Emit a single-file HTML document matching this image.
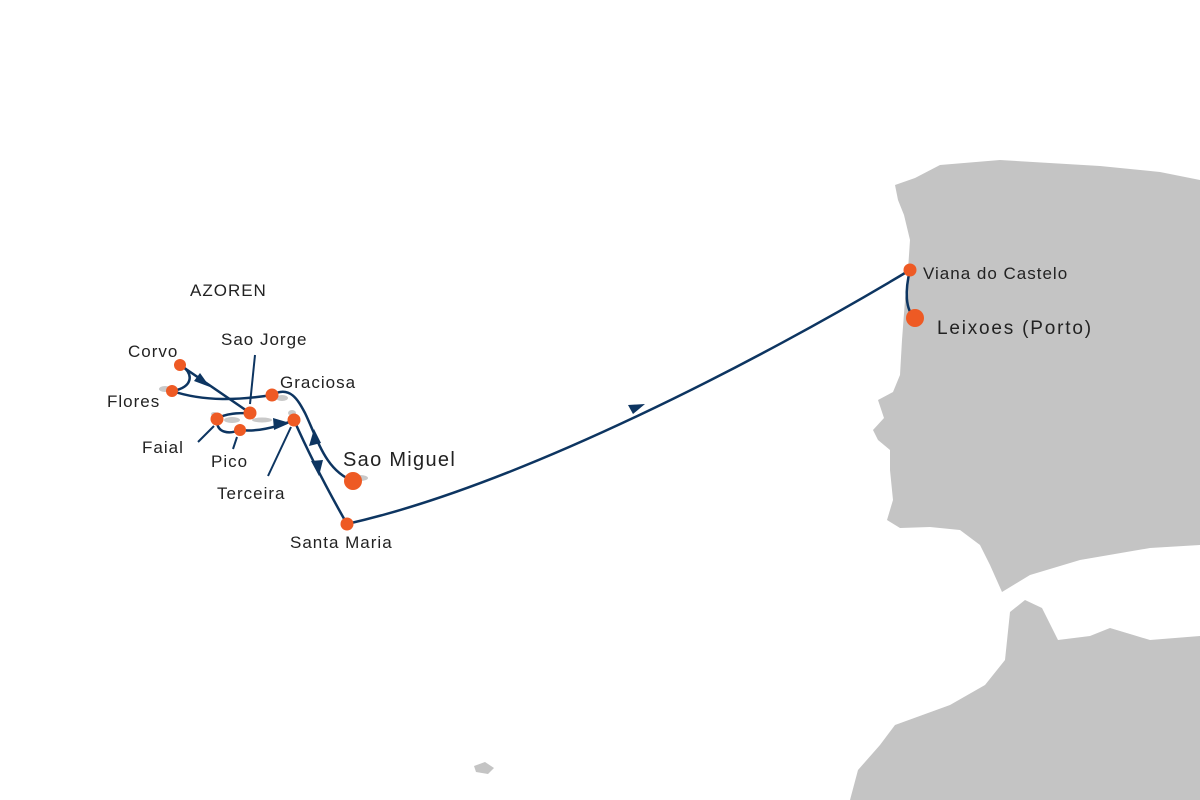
<!DOCTYPE html>
<html><head><meta charset="utf-8"><style>
body{margin:0;background:#fff}
svg{display:block}
text{font-family:"Liberation Sans",sans-serif;fill:#222;letter-spacing:1px}
</style></head><body>
<svg width="1200" height="800" viewBox="0 0 1200 800">
<path fill="#c4c4c4" d="M895,185 L915,178 L940,165 L1000,160 L1100,166 L1160,172 L1200,180 L1200,545 L1150,548 L1080,560 L1030,575 L1002,592 L990,565 L980,545 L960,530 L930,527 L900,528 L887,520 L893,500 L890,470 L890,450 L878,440 L873,430 L884,418 L878,400 L893,392 L900,375 L902,340 L905,300 L908,270 L910,240 L904,215 L898,200 Z"/>
<path fill="#c4c4c4" d="M1010,612 L1025,600 L1042,608 L1058,640 L1090,636 L1110,628 L1150,640 L1200,636 L1200,800 L850,800 L858,770 L880,745 L895,725 L950,705 L985,685 L1005,660 Z"/>
<path fill="#c4c4c4" d="M474,766 L485,762 L494,768 L488,774 L476,772 Z"/>
<g fill="#c9c9c9">
<ellipse cx="165" cy="389" rx="6" ry="3"/><ellipse cx="232" cy="420" rx="8" ry="3"/><ellipse cx="262" cy="420" rx="10" ry="2.5"/><ellipse cx="282" cy="398" rx="6" ry="3"/><ellipse cx="292" cy="413" rx="4" ry="3"/><ellipse cx="360" cy="478" rx="8" ry="3"/><ellipse cx="214" cy="414" rx="3" ry="2"/>
</g>
<g fill="none" stroke="#0d3561" stroke-width="2.5" stroke-linecap="round">
<path d="M180,365 C194,372 194,388 172,391"/>
<path d="M180,365 L250,413"/>
<path d="M172,391 C205,402 240,400 272,395"/>
<path d="M217,419 C225,413 240,413 250,413"/>
<path d="M217,419 C216,434 230,434 240,430 C255,432 275,428 294,420"/>
<path d="M272,395 C290,385 298,400 305,413 C318,440 325,470 353,481"/>
<path d="M294,420 C305,445 322,480 347,524"/>
<path d="M347,524 C520,485 760,360 910,270"/>
<path d="M910,270 C905,290 905,310 915,318"/>
</g>
<g fill="none" stroke="#0d3561" stroke-width="2">
<path d="M255,355 L250,404"/><path d="M198,442 L214,426"/><path d="M233,449 L237,437"/><path d="M268,476 L291,427"/>
</g>
<g fill="#0d3561">
<polygon points="210,387 194,381 200,373"/>
<polygon points="290,423 274,430 273,418"/>
<polygon points="314,429 309,446 321,443"/>
<polygon points="319,476 311,461 323,460"/>
<polygon points="645,404 628,405 633,414"/>
</g>
<g fill="#ee5a24">
<circle cx="180" cy="365" r="6"/><circle cx="172" cy="391" r="6"/><circle cx="217" cy="419" r="6.5"/><circle cx="240" cy="430" r="6"/><circle cx="250" cy="413" r="6.5"/><circle cx="272" cy="395" r="6.5"/><circle cx="294" cy="420" r="6.5"/><circle cx="353" cy="481" r="9"/><circle cx="347" cy="524" r="6.5"/><circle cx="910" cy="270" r="6.5"/><circle cx="915" cy="318" r="9"/>
</g>
<text x="190" y="296" font-size="17">AZOREN</text>
<text x="128" y="357" font-size="17">Corvo</text>
<text x="221" y="345" font-size="17">Sao Jorge</text>
<text x="280" y="388" font-size="17">Graciosa</text>
<text x="107" y="407" font-size="17">Flores</text>
<text x="142" y="453" font-size="17">Faial</text>
<text x="211" y="467" font-size="17">Pico</text>
<text x="217" y="499" font-size="17">Terceira</text>
<text x="343" y="466" font-size="20" style="letter-spacing:1.3px">Sao Miguel</text>
<text x="290" y="548" font-size="17">Santa Maria</text>
<text x="923" y="279" font-size="17">Viana do Castelo</text>
<text x="937" y="334" font-size="19" style="letter-spacing:1.8px">Leixoes (Porto)</text>
</svg>
</body></html>
